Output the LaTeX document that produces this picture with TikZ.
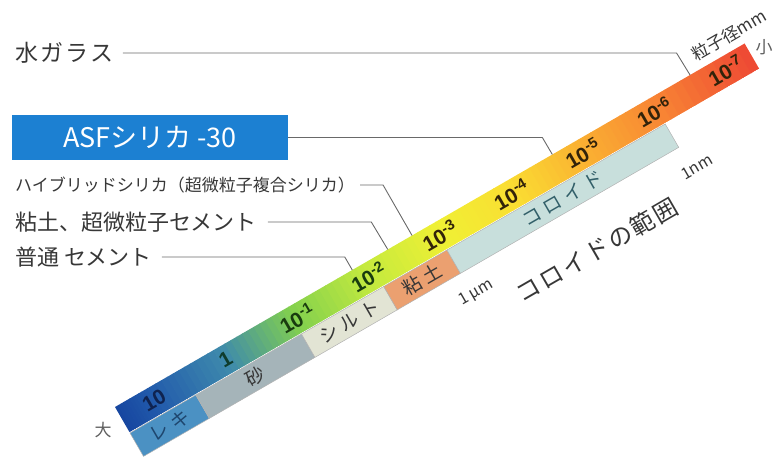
\documentclass[tikz,border=0pt]{standalone}
\usepackage{fontspec}
\setmainfont{Noto Sans CJK JP}
\newfontfamily\wide{Noto Sans CJK JP}[LetterSpace=10]
\newfontfamily\spaced{Noto Sans CJK JP}[LetterSpace=25]
\newfontfamily\num{Liberation Sans}
\usepackage{xcolor}

\definecolor{asfblue}{RGB}{28,128,210}
\definecolor{txt}{RGB}{55,55,55}
\definecolor{leadgray}{RGB}{105,105,105}
% colours along the size band
\definecolor{gA}{RGB}{22,70,160}
\definecolor{gB}{RGB}{35,92,172}
\definecolor{gC}{RGB}{62,138,172}
\definecolor{gD}{RGB}{130,208,78}
\definecolor{gE}{RGB}{196,234,62}
\definecolor{gF}{RGB}{240,240,52}
\definecolor{gG}{RGB}{250,222,50}
\definecolor{gH}{RGB}{250,176,50}
\definecolor{gI}{RGB}{248,135,52}
\definecolor{gJ}{RGB}{238,72,52}
% soil classes
\definecolor{reki}{RGB}{75,145,195}
\definecolor{suna}{RGB}{165,180,185}
\definecolor{silt}{RGB}{226,228,212}
\definecolor{nendo}{RGB}{235,160,112}
\definecolor{colloid}{RGB}{200,223,220}
\definecolor{dnavy}{RGB}{15,35,80}
\definecolor{dteal}{RGB}{15,60,45}
\definecolor{dgreen}{RGB}{25,60,15}
\definecolor{dbrown}{RGB}{50,35,10}
\definecolor{rekitxt}{RGB}{30,70,110}
\definecolor{coltxt}{RGB}{50,95,105}

\newcommand\fsz[1]{\fontsize{#1}{#1}\selectfont}
\newcommand\dec[1]{10\textsuperscript{#1}}

\begin{document}
\begin{tikzpicture}[x=1pt, y=1pt,
    leader/.style={draw=leadgray, line width=0.9pt},
    lefttext/.style={anchor=west, inner sep=0pt, text=txt},
    decade/.style={rotate=30, inner sep=0pt, font=\num\bfseries\fsz{21}},
    kind/.style={rotate=30, inner sep=0pt, font=\spaced\fsz{19}},
    sortbox/.style={draw=gray!60, line width=0.5pt}
    %   sortbox/.style={draw=none}
  ]
  \useasboundingbox (0,0) rectangle (779,459);

  % labels on the left
  \node[lefttext, font=\wide\fsz{23}] (wg) at (15,406) {水ガラス};
  \node[fill=asfblue, text=white, minimum width=276pt, minimum height=45pt,
        inner sep=0pt, font=\fsz{27}] (asf) at (150,321.5) {ASFシリカ -30};
  \node[lefttext, font=\fsz{17}] (hyb) at (15,274) {ハイブリッドシリカ（超微粒子複合シリカ）};
  \node[lefttext, font=\fsz{22}] (clay) at (15,237) {粘土、超微粒子セメント};
  \node[lefttext, font=\fsz{22}] (opc) at (15,202) {普通 セメント};

  \begin{scope}[shift={(115,52)}, rotate=30]
    % gradient band
    \begin{scope}
      \clip (0,0) rectangle (727,-29);
      \foreach \ua/\ub/\ca/\cb in {0/40/gA/gB, 40/120/gB/gC, 120/200/gC/gD,
          200/285/gD/gE, 285/370/gE/gF, 370/450/gF/gG, 450/535/gG/gH,
          535/616/gH/gI, 616/727/gI/gJ}{
        \foreach \k in {0,...,11}{
          \pgfmathsetmacro\mix{100*(\k+0.5)/12}
          \fill[fill=\cb!\mix!\ca] ({\ua+(\ub-\ua)*\k/12},0)
            rectangle ({\ua+(\ub-\ua)*(\k+1)/12+0.6},-29);
        }
      }
    \end{scope}
    \foreach \i/\lab/\tc in {0/10/dnavy, 1/1/dteal, 2/\dec{-1}/dgreen,
        3/\dec{-2}/dgreen, 4/\dec{-3}/dbrown, 5/\dec{-4}/dbrown,
        6/\dec{-5}/dbrown, 7/\dec{-6}/dbrown, 8/\dec{-7}/dbrown}
      \node[decade, text=\tc] (d\i) at ({37+82.5*\i},-14) {\lab};

    % soil classes
    \foreach \ua/\ub/\col/\nm/\lab/\tc in {0/76/reki/reki/レキ/rekitxt,
        76/198/suna/suna/砂/txt, 198/293/silt/silt/シルト/txt,
        293/366/nendo/nendo/粘土/txt, 366/618/colloid/colloid/コロイド/coltxt}{
      \filldraw[sortbox, fill=\col] (\ua,-30) rectangle (\ub,-57);
      \node[kind, text=\tc] (\nm) at ({(\ua+\ub)/2},-43.5) {\lab};
    }

    \node[rotate=30, inner sep=0pt, text=txt, font=\fsz{17}] (size) at (718,15) {粒子径mm};
    \node[rotate=30, inner sep=0pt, text=txt, font=\fsz{16}] (um) at (370,-82) {1\,μm};
    \node[rotate=30, inner sep=0pt, text=txt, font=\fsz{16}] (nm) at (624,-83) {1nm};
    \node[rotate=30, inner sep=0pt, text=txt, font=\wide\fsz{24}] (range) at (496,-105) {コロイドの範囲};

    % where the leaders meet the band
    \coordinate (wg-a) at (664,0);  \coordinate (wg-b) at (664,27);
    \coordinate (asf-a) at (505,0); \coordinate (asf-b) at (505,20);
    \coordinate (hyb-a) at (343,0); \coordinate (hyb-b) at (343,58);
    \coordinate (clay-a) at (315,0); \coordinate (clay-b) at (315,33);
    \coordinate (opc-a) at (274,0); \coordinate (opc-b) at (274,15);
  \end{scope}

  \node[text=txt!80, font=\fsz{17}] (big) at (103,29) {大};
  \node[text=txt!80, font=\fsz{17}] (small) at (764,412) {小};

  % leaders
  \draw[leader] ([xshift=9pt]wg.east) -- (wg.east -| wg-b) -- (wg-a);
  \draw[leader] (asf.east) -- (asf.east -| asf-b) -- (asf-a);
  \draw[leader] ([xshift=5pt]hyb.east) -- (hyb.east -| hyb-b) -- (hyb-a);
  \draw[leader] ([xshift=11pt]clay.east) -- (clay.east -| clay-b) -- (clay-a);
  \draw[leader] ([xshift=10pt]opc.east) -- (opc.east -| opc-b) -- (opc-a);
\end{tikzpicture}
\end{document}
